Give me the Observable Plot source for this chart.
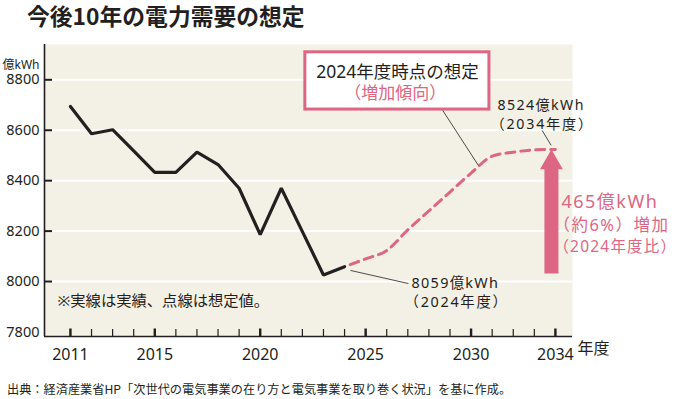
<!DOCTYPE html>
<html><head><meta charset="utf-8">
<script src="https://cdn.jsdelivr.net/npm/d3@7"></script>
<script src="https://cdn.jsdelivr.net/npm/@observablehq/plot@0.6"></script>
<style>
body{margin:0;background:#fff;font-family:"Noto Sans","Noto Sans CJK JP",sans-serif;color:#231f20;}
#title{height:38px;padding-left:27px;padding-top:3px;font:700 22.8px/26px "Noto Sans CJK JP",sans-serif;box-sizing:border-box;}
#chart{height:332px;}
#caption{height:29px;padding-left:7px;padding-top:11px;font:12.2px/16px "Noto Sans CJK JP",sans-serif;box-sizing:border-box;white-space:nowrap;}
</style></head><body>
<div id="title">今後10年の電力需要の想定</div>
<div id="chart"></div>
<div id="caption">出典：経済産業省HP「次世代の電気事業の在り方と電気事業を取り巻く状況」を基に作成。</div>
<script>
// ---- data ----
const actualYears  = [2011,2012,2013,2014,2015,2016,2017,2018,2019,2020,2021,2022,2023,2024];
const actualValues = [8694,8586,8602,8518,8433,8433,8513,8464,8370,8186,8370,8198,8026,8059];
const forecastYears  = [2024,2025,2026,2027,2028,2029,2030,2031,2032,2033,2034];
const forecastValues = [8059,8090,8123,8205,8280,8355,8430,8497,8513,8522,8524];
const yTicks = [7800,8000,8200,8400,8600,8800];
const xLabelYears = [2011,2015,2020,2025,2030,2034];
const minorYears = [2011,2012,2013,2014,2015,2016,2017,2018,2019,2020,2021,2022,2023,2024,2025,2026,2027,2028,2029,2030,2031,2032,2033,2034];
const arrowBase = 8030;
const unitLabel = "億kWh";
const noteText = "※実線は実績、点線は想定値。";
const boxTitle = "2024年度時点の想定";
const boxSub = "（増加傾向）";
const startLine1 = "8059億kWh";
const startLine2 = "（2024年度）";
const endLine1 = "8524億kWh";
const endLine2 = "（2034年度）";
const incLine1 = "465億kWh";
const incLine2 = "（約6%）増加";
const incLine3 = "（2024年度比）";
const xUnit = "年度";

const actual = actualYears.map((y,i)=>({year:y, value:actualValues[i]}));
const forecast = forecastYears.map((y,i)=>({year:y, value:forecastValues[i]}));
const lastActualYear = actualYears[actualYears.length-1];
const lastActualVal = actualValues[actualValues.length-1];
const lastYear = forecastYears[forecastYears.length-1];
const lastVal = forecastValues[forecastValues.length-1];

const ink = "#231f20";
const pink = "#dc6683";
const bg = "#f3f0e6";
const W = 680, H = 332, mT = 6, mB = 34, mL = 44, mR = 108;
const xDomain = [2009.77, 2034.81];
const yDomain = [7782, 8940];
// data units per pixel (for inward tick lengths)
const xPerPx = (xDomain[1]-xDomain[0]) / (W - mL - mR);
const yPerPx = (yDomain[1]-yDomain[0]) / (H - mT - mB);

const chart = Plot.plot({
  width: W, height: H,
  marginTop: mT, marginBottom: mB, marginLeft: mL, marginRight: mR,
  style: {fontFamily: '"Noto Sans","Noto Sans CJK JP",sans-serif', color: ink, background: "transparent", overflow: "visible"},
  x: {domain: xDomain},
  y: {domain: yDomain},
  marks: [
    Plot.frame({fill: bg, stroke: null}),
    Plot.gridY(yTicks.slice(1), {stroke: "#ffffff", strokeOpacity: 1, strokeWidth: 2}),
    Plot.axisY(yTicks, {tickSize: 0, tickPadding: 5, fontSize: 14.5, tickFormat: d => String(d), label: null}),
    Plot.axisX(xLabelYears, {tickSize: 0, tickPadding: 12, fontSize: 16, tickFormat: d => String(d), label: null}),
    // inward tick marks
    Plot.ruleY(yTicks.slice(1), {y: d => d, x1: xDomain[0], x2: xDomain[0] + 8 * xPerPx, stroke: ink, strokeWidth: 2}),
    Plot.ruleX(minorYears, {x: d => d, y1: yDomain[0] + 7 * yPerPx, y2: yDomain[0], stroke: ink, strokeWidth: 1.2}),
    Plot.ruleX(xLabelYears, {x: d => d, y1: yDomain[0] + 7.5 * yPerPx, y2: yDomain[0], stroke: ink, strokeWidth: 2.4}),
    // axis lines
    Plot.ruleY([yDomain[0]], {stroke: ink, strokeWidth: 1.6}),
    Plot.ruleX([xDomain[0]], {stroke: ink, strokeWidth: 1.6}),
    Plot.text([xUnit], {x: lastYear, frameAnchor: "bottom", dy: 17, dx: 22, textAnchor: "start", fontSize: 16}),
    Plot.text([unitLabel], {frameAnchor: "top-left", dx: -42, dy: 15.5, textAnchor: "start", fontSize: 12}),
    // data lines
    Plot.line(actual, {x: "year", y: "value", stroke: ink, strokeWidth: 3.2, strokeLinejoin: "miter"}),
    Plot.line(forecast, {x: "year", y: "value", curve: "monotone-x", stroke: pink, strokeWidth: 3, strokeDasharray: "9,6", strokeDashoffset: 9}),
    // leader lines
    Plot.link([{x1: 2024.28, y1: 8044, x2: 2027.03, y2: 7992}], {x1: "x1", y1: "y1", x2: "x2", y2: "y2", stroke: ink, strokeWidth: 0.8}),
    Plot.link([{x1: 2033.37, y1: 8599, x2: 2033.8, y2: 8540}], {x1: "x1", y1: "y1", x2: "x2", y2: "y2", stroke: ink, strokeWidth: 0.8}),
    Plot.link([{x1: 2028.63, y1: 8682, x2: 2030.35, y2: 8460}], {x1: "x1", y1: "y1", x2: "x2", y2: "y2", stroke: ink, strokeWidth: 0.8}),
    // annotation box
    Plot.rect([{x1: 2022.14, x2: 2030.87, y1: 8682, y2: 8909}], {x1: "x1", x2: "x2", y1: "y1", y2: "y2", fill: "#ffffff", stroke: pink, strokeWidth: 3}),
    Plot.text([boxTitle], {x: 2026.51, y: 8830, fontSize: 17.5, fill: ink}),
    Plot.text([boxSub], {x: 2026.4, y: 8745, fontSize: 17, fill: pink}),
    // point labels
    Plot.text([startLine1], {x: lastActualYear, y: lastActualVal, dx: 67, dy: 17, textAnchor: "start", fontSize: 14.4, fill: ink}),
    Plot.text([startLine2], {x: lastActualYear, y: lastActualVal, dx: 60, dy: 35.6, textAnchor: "start", fontSize: 14.4, fill: ink}),
    Plot.text([endLine1], {x: lastYear, y: lastVal, dx: -58, dy: -43.5, textAnchor: "start", fontSize: 14.2, fill: ink}),
    Plot.text([endLine2], {x: lastYear, y: lastVal, dx: -65, dy: -24.5, textAnchor: "start", fontSize: 14.2, fill: ink}),
    // increase arrow
    Plot.ruleX([lastYear], {y1: lastVal, y2: arrowBase, dx: -4, insetTop: 19, stroke: pink, strokeWidth: 14}),
    Plot.dot([lastYear], {x: d => d, y: lastVal, dx: -4, dy: 13.2, symbol: "triangle", r: 8.5, fill: pink, stroke: null}),
    Plot.text([incLine1], {x: lastYear, y: 8315, dx: 6, textAnchor: "start", fontSize: 18, fill: pink}),
    Plot.text([incLine2], {x: lastYear, y: 8222, dx: -2, textAnchor: "start", fontSize: 16.5, fill: pink}),
    Plot.text([incLine3], {x: lastYear, y: 8136, dx: -2, textAnchor: "start", fontSize: 15.5, fill: pink}),
    // note
    Plot.text([noteText], {frameAnchor: "bottom-left", dx: 13, dy: -31, textAnchor: "start", fontSize: 15.3, fill: ink})
  ]
});
const spacing = new Map([
  [startLine1, 1.3], [startLine2, 1.7], [endLine1, 1.4], [endLine2, 1.8],
  [incLine1, 1.5], [incLine2, 1.5], [incLine3, 1.2]
]);
chart.querySelectorAll("text").forEach(t => {
  const s = spacing.get(t.textContent);
  if (s != null) t.setAttribute("letter-spacing", s);
});
document.getElementById("chart").appendChild(chart);
</script>
</body></html>
